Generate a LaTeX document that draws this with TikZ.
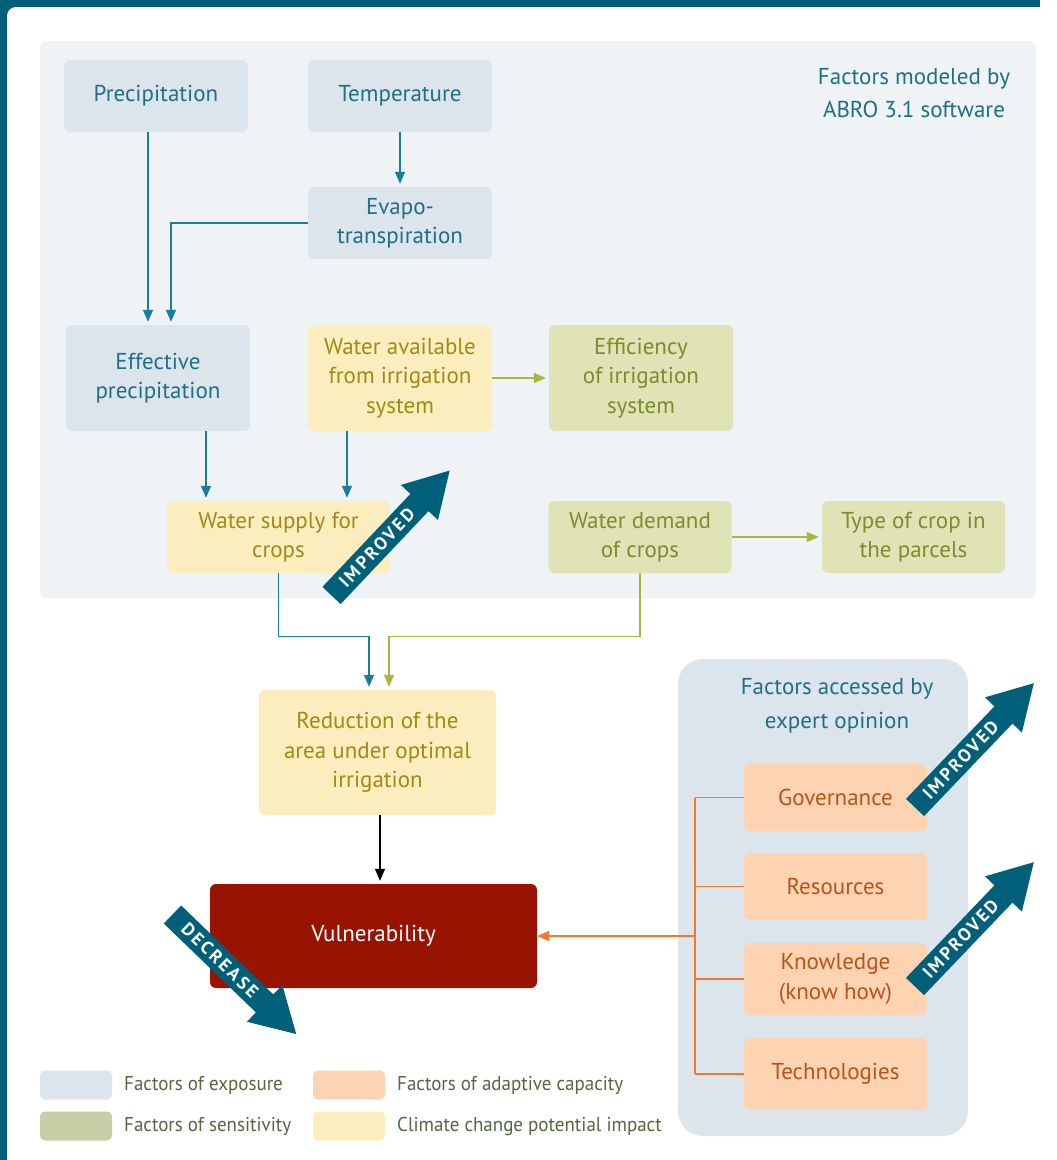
\documentclass[tikz,border=0pt]{standalone}
\usepackage{fontspec}
\setmainfont{PT Sans}
\newfontfamily\arrowfont[LetterSpace=14]{PT Sans}
\newfontfamily\legfont[FakeStretch=0.95]{PT Sans}
\usetikzlibrary{arrows.meta}
\definecolor{frame}{HTML}{00607A}
\definecolor{panel}{HTML}{EFF3F6}
\definecolor{expo}{HTML}{DDE5EC}
\definecolor{expotext}{HTML}{1F6F85}
\definecolor{yelbox}{HTML}{FCEDBF}
\definecolor{yeltext}{HTML}{A08A14}
\definecolor{grnbox}{HTML}{DFE3B6}
\definecolor{grntext}{HTML}{7D8C2C}
\definecolor{orgbox}{HTML}{FDD3B1}
\definecolor{orgtext}{HTML}{B3561C}
\definecolor{vuln}{HTML}{981400}
\definecolor{cteal}{HTML}{1A7D99}
\definecolor{cgreen}{HTML}{A9B53B}
\definecolor{corange}{HTML}{F17A2A}
\definecolor{legtext}{HTML}{56663F}
\definecolor{leggreen}{HTML}{C8CEA5}
\tikzset{
  box/.style={rounded corners=6pt, inner sep=0pt, align=center,
    font=\fontsize{23}{29.5}\selectfont},
  expobox/.style={box, fill=expo, text=expotext},
  yelnode/.style={box, fill=yelbox, text=yeltext},
  grnnode/.style={box, fill=grnbox, text=grntext},
  orgnode/.style={box, fill=orgbox, text=orgtext},
  conn/.style={line width=1.3pt, -{Triangle[length=12pt,width=10pt]}, shorten >=3pt},
  swatch/.style={rounded corners=5pt, minimum width=72pt, minimum height=29pt, inner sep=0pt},
  legtxt/.style={anchor=west, text=legtext, inner sep=0pt, font=\legfont\fontsize{20}{24}\selectfont},
  bigarrow/.pic={
    \fill[frame] (0,12.5) -- (128,12.5) -- (128,25.5) -- (172,0) -- (128,-25.5) -- (128,-12.5) -- (0,-12.5) -- cycle;
    \node[transform shape, text=white, inner sep=0pt, font=\arrowfont\bfseries\fontsize{18}{18}\selectfont] (-t) at (66,0) {#1};
  }
}
\begin{document}
\begin{tikzpicture}[x=1pt,y=-1pt]
\useasboundingbox (0,0) rectangle (1057,1160);
\clip (0,0) rectangle (1057,1160);
% frame
\fill[frame] (0,0) rectangle (1040,40);
\fill[frame] (0,0) rectangle (40,1160);
\fill[white, rounded corners=9pt] (7,7) rectangle (1100,1200);
% upper panel
\fill[panel, rounded corners=7pt] (40,41) rectangle (1036,598);
\node[text=expotext, align=center, font=\fontsize{23}{33}\selectfont] (t1) at (914,93) {Factors modeled by\\ABRO 3.1 software};
% boxes
\node[expobox, minimum width=184pt, minimum height=72pt] (prec) at (156,96) {Precipitation};
\node[expobox, minimum width=184pt, minimum height=72pt] (temp) at (400,96) {Temperature};
\node[expobox, minimum width=184pt, minimum height=72pt] (evap) at (400,223) {Evapo-\\transpiration};
\node[expobox, minimum width=184pt, minimum height=106pt] (effp) at (158,378) {Effective\\precipitation};
\node[yelnode, minimum width=184pt, minimum height=106pt] (wav) at (400,378) {Water available\\from irrigation\\system};
\node[grnnode, minimum width=184pt, minimum height=106pt] (eff) at (641,378) {Efficiency\\of irrigation\\system};
\node[yelnode, minimum width=223pt, minimum height=72pt] (wsup) at (278.5,537) {Water supply for\\crops};
\node[grnnode, minimum width=183pt, minimum height=72pt] (wdem) at (640,537) {Water demand\\of crops};
\node[grnnode, minimum width=183pt, minimum height=72pt] (type) at (913.5,537) {Type of crop in\\the parcels};
\node[yelnode, minimum width=237pt, minimum height=125pt] (red) at (377.5,752.5) {Reduction of the\\area under optimal\\irrigation};
\node[box, fill=vuln, text=white, minimum width=327pt, minimum height=104pt] (vul) at (373.5,936) {Vulnerability};
% right panel
\fill[expo, rounded corners=25pt] (678,659) rectangle (968,1136);
\node[text=expotext, align=center, font=\fontsize{23}{34}\selectfont] (t2) at (837,706) {Factors accessed by\\expert opinion};
\node[orgnode, minimum width=183pt, minimum height=67pt] (gov) at (835.5,797.5) {Governance};
\node[orgnode, minimum width=183pt, minimum height=67pt] (res) at (835.5,886.5) {Resources};
\node[orgnode, minimum width=183pt, minimum height=72pt] (know) at (835.5,979) {Knowledge\\(know how)};
\node[orgnode, minimum width=183pt, minimum height=72pt] (tech) at (835.5,1074) {Technologies};
% connectors
\draw[conn, cteal] ([xshift=-8pt]prec.south) -- ([xshift=-8pt]prec.south |- effp.north);
\draw[conn, cteal] (evap.west) -| ([xshift=13pt]effp.north);
\draw[conn, cteal] (temp.south) -- (evap.north);
\draw[conn, cteal] ([xshift=48pt]effp.south) -- ([xshift=48pt]effp.south |- wsup.north);
\draw[conn, cteal] ([xshift=-53pt]wav.south) -- ([xshift=-53pt]wav.south |- wsup.north);
\draw[conn, cgreen] (wav.east) -- (eff.west);
\draw[conn, cgreen] (wdem.east) -- (type.west);
\draw[conn, cteal] (wsup.south) -- ++(0,63) -| ([xshift=-8.5pt]red.north);
\draw[conn, cgreen] (wdem.south) -- ++(0,63) -| ([xshift=11.5pt]red.north);
\draw[conn, black] ([xshift=2.5pt]red.south) -- ([xshift=2.5pt]red.south |- vul.north);
% bracket
\coordinate (bt) at (695,797.5);
\coordinate (bb) at (695,1074);
\draw[corange, line width=1.3pt] (bt) -- (bb);
\draw[corange, line width=1.3pt] (bt) -- (gov.west);
\draw[corange, line width=1.3pt] (res.west -| bt) -- (res.west);
\draw[corange, line width=1.3pt] (know.west -| bt) -- (know.west);
\draw[corange, line width=1.3pt] (bb) -- (tech.west);
\draw[conn, corange, shorten >=0pt] (vul.east -| bt) -- (vul.east);
% big arrows
\pic (a1) at (331.5,595.5) [rotate=46.6] {bigarrow=IMPROVED};
\pic (a2) at (915,807.5) [rotate=46.3] {bigarrow=IMPROVED};
\pic (a3) at (915,986.5) [rotate=46.3] {bigarrow=IMPROVED};
\pic (a4) at (172.5,914.5) [rotate=-44] {bigarrow=DECREASE};
% legend
\node[swatch, fill=expo] (l1) at (76,1085) {};
\node[swatch, fill=leggreen] (l2) at (76,1126) {};
\node[swatch, fill=orgbox] (l3) at (349,1085) {};
\node[swatch, fill=yelbox] (l4) at (349,1126) {};
\node[legtxt] (l1t) at (124,1085) {Factors of exposure};
\node[legtxt] (l2t) at (124,1126) {Factors of sensitivity};
\node[legtxt] (l3t) at (397,1085) {Factors of adaptive capacity};
\node[legtxt] (l4t) at (397,1126) {Climate change potential impact};
\end{tikzpicture}
\end{document}
